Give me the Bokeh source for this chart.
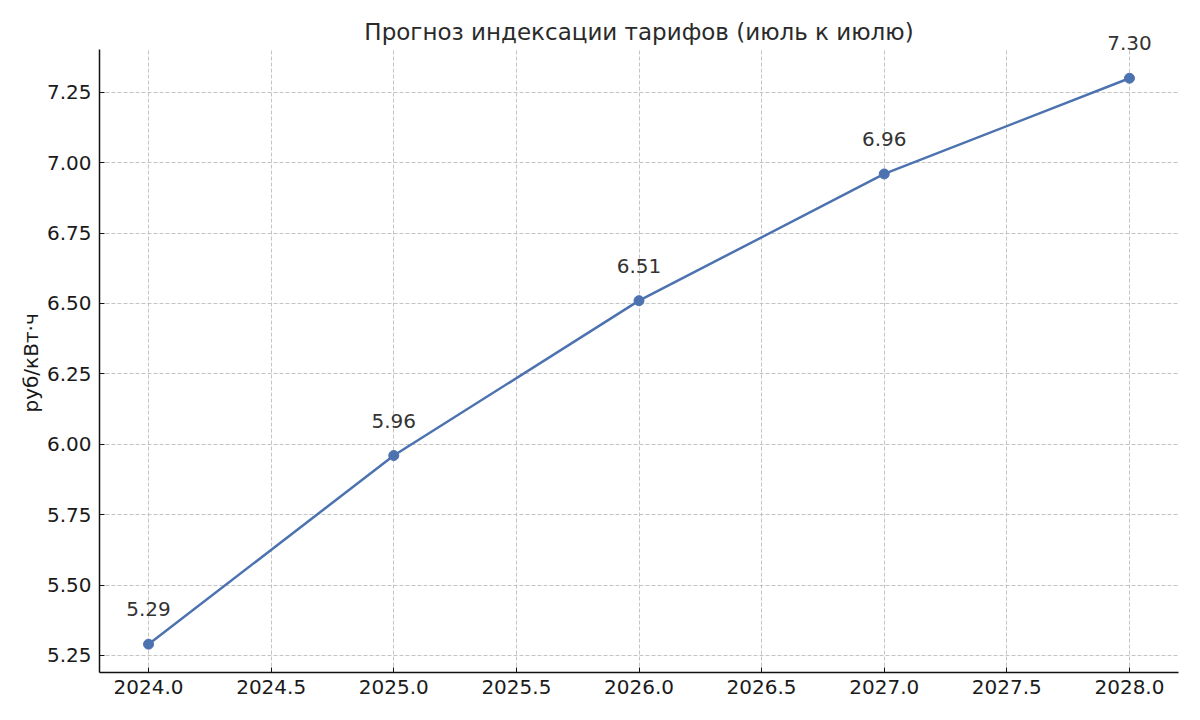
from bokeh.plotting import figure
from bokeh.models import (ColumnDataSource, Range1d, FixedTicker, PrintfTickFormatter,
                          Label, BoxAnnotation, Title)
from bokeh.embed import file_html
from bokeh.resources import INLINE

years = [2024, 2025, 2026, 2027, 2028]
tariffs = [5.29, 5.96, 6.51, 6.96, 7.30]
labels = ["5.29", "5.96", "6.51", "6.96", "7.30"]
x_ticks = [2024.0, 2024.5, 2025.0, 2025.5, 2026.0, 2026.5, 2027.0, 2027.5, 2028.0]
y_ticks = [5.25, 5.50, 5.75, 6.00, 6.25, 6.50, 6.75, 7.00, 7.25]
title_text = "Прогноз индексации тарифов (июль к июлю)"
y_label = "руб/кВт·ч"

FONT = "DejaVu Sans"
COLOR = "#4c72b0"

X0, X1 = 2023.8, 2028.2
Y0, Y1 = 5.1895, 7.4005   # visible axes extent
Y_TOP = 7.576              # extra headroom (title + top label live here)

src = ColumnDataSource(dict(x=years, y=tariffs, t=labels))

p = figure(width=1184, height=704, output_backend="svg", toolbar_location=None,
           x_range=Range1d(X0, X1), y_range=Range1d(Y0, Y_TOP),
           min_border_left=99, min_border_right=6, min_border_top=0, min_border_bottom=32)

p.outline_line_color = None
p.background_fill_color = "white"

for ax in (p.xaxis[0], p.yaxis[0]):
    ax.axis_line_color = "#111111"
    ax.axis_line_width = 1.5
    ax.major_tick_in = 5
    ax.major_tick_out = 0
    ax.major_tick_line_color = "#111111"
    ax.major_tick_line_width = 1
    ax.minor_tick_line_color = None
    ax.major_label_text_font = FONT
    ax.major_label_text_font_size = "20px"
    ax.major_label_text_color = "#1a1a1a"

p.yaxis.bounds = (Y0, Y1)
p.xaxis.ticker = FixedTicker(ticks=x_ticks)
p.yaxis.ticker = FixedTicker(ticks=y_ticks)
p.xaxis.formatter = PrintfTickFormatter(format="%.1f")
p.yaxis.formatter = PrintfTickFormatter(format="%.2f")
p.xaxis.major_label_standoff = 7
p.yaxis.major_label_standoff = 8

# y axis label as a side title so that it can be centred on the visible axes
p.add_layout(Title(text=y_label, align="left", offset=260, standoff=2,
                   text_font=FONT, text_font_size="20px", text_font_style="normal",
                   text_color="#1a1a1a"), "left")

for g in (p.xgrid[0], p.ygrid[0]):
    g.grid_line_color = "#c4c4c4"
    g.grid_line_dash = "4 2"
    g.grid_line_width = 1

# white cover over the headroom so that grid lines stop at the axes top
p.add_layout(BoxAnnotation(bottom=Y1, fill_color="white", fill_alpha=1.0,
                           line_color=None, level="underlay"))

p.line("x", "y", source=src, line_color=COLOR, line_width=2.5)
p.scatter("x", "y", source=src, size=10, fill_color=COLOR, line_color=COLOR)

for xv, yv, tv in zip(years, tariffs, labels):
    p.add_layout(Label(x=xv, y=yv, text=tv, text_align="center",
                       text_baseline="middle", y_offset=35, text_font_size="20px",
                       text_color="#333333", text_font=FONT))

p.add_layout(Label(x=(X0 + X1) / 2, y=Y1, text=title_text, text_align="center",
                   text_baseline="middle", y_offset=18, text_font_size="23px",
                   text_color="#2a2a2a", text_font=FONT))

open("out.html", "w").write(file_html(p, INLINE))
